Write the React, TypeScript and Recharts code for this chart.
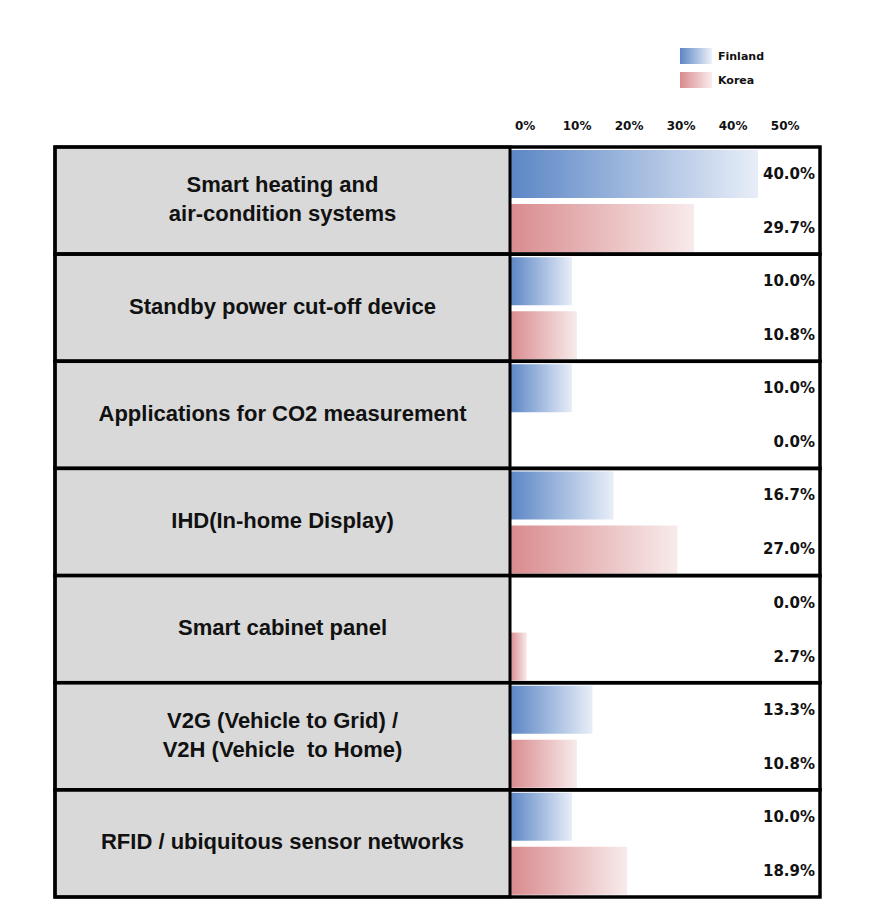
import React from "react"
import { Bar, BarChart, LabelList, Legend, XAxis, YAxis } from "recharts"

const categories = [
  "Smart heating and\nair-condition systems",
  "Standby power cut-off device",
  "Applications for CO2 measurement",
  "IHD(In-home Display)",
  "Smart cabinet panel",
  "V2G (Vehicle to Grid) /\nV2H (Vehicle  to Home)",
  "RFID / ubiquitous sensor networks",
]
const finland = [40.0, 10.0, 10.0, 16.7, 0.0, 13.3, 10.0]
const korea = [29.7, 10.8, 0.0, 27.0, 2.7, 10.8, 18.9]
const tickValues = [0, 10, 20, 30, 40, 50]

const data = categories.map((name, i) => ({ name, finland: finland[i], korea: korea[i] }))

const W = 876
const H = 904
const LEFT = 55
const LABEL_W = 455
const PLOT_TOP = 147
const PLOT_BOTTOM = 897
const PLOT_RIGHT = 820
const AXIS_H = 30
const BAND = (PLOT_BOTTOM - PLOT_TOP) / categories.length

const RowTick = (props: any) => {
  const { y, payload } = props
  const lines = String(payload.value).split("\n")
  const lh = 29
  const top = y - BAND / 2
  return (
    <g>
      <rect x={LEFT} y={top} width={LABEL_W} height={BAND} fill="#d9d9d9" stroke="#000" strokeWidth={3} />
      <rect x={LEFT} y={top} width={PLOT_RIGHT - LEFT} height={BAND} fill="none" stroke="#000" strokeWidth={3.5} />
      <text
        x={LEFT + LABEL_W / 2}
        y={y - ((lines.length - 1) * lh) / 2 - 2}
        textAnchor="middle"
        dominantBaseline="central"
        fontFamily="'Liberation Sans', Arial, sans-serif"
        fontWeight="bold"
        fontSize={22}
        fill="#111"
        style={{ whiteSpace: "pre" }}
      >
        {lines.map((l, i) => (
          <tspan key={i} x={LEFT + LABEL_W / 2} dy={i === 0 ? 0 : lh}>
            {l}
          </tspan>
        ))}
      </text>
    </g>
  )
}

const ValueLabel = (props: any) => {
  const { y, height, value } = props
  return (
    <text
      x={PLOT_RIGHT - 5}
      y={y + height / 2}
      textAnchor="end"
      dominantBaseline="central"
      fontFamily="'DejaVu Sans', sans-serif"
      fontWeight="bold"
      fontSize={15}
      fill="#111"
    >
      {Number(value).toFixed(1)}%
    </text>
  )
}

const legendItems = [
  { label: "Finland", from: "#5b86c5", to: "#eef2f9" },
  { label: "Korea", from: "#d98b8e", to: "#f9eded" },
]

const LegendBox = () => (
  <div style={{ display: "flex", flexDirection: "column", gap: 8 }}>
    {legendItems.map((it) => (
      <div key={it.label} style={{ display: "flex", alignItems: "center", height: 16 }}>
        <div
          style={{
            width: 32,
            height: 16,
            background: `linear-gradient(to right, ${it.from}, ${it.to})`,
            marginRight: 6,
          }}
        />
        <span style={{ fontFamily: "'DejaVu Sans', sans-serif", fontWeight: "bold", fontSize: 11, color: "#111" }}>
          {it.label}
        </span>
      </div>
    ))}
  </div>
)

export default function App() {
  return (
    <div style={{ position: "absolute", left: 0, top: 0, width: W, height: H, background: "#fff" }}>
      <BarChart
        width={W}
        height={H}
        data={data}
        layout="vertical"
        margin={{ top: PLOT_TOP - AXIS_H, right: W - PLOT_RIGHT, bottom: H - PLOT_BOTTOM, left: LEFT }}
        barCategoryGap={3}
        barGap={6}
      >
        <defs>
          <linearGradient id="gradFin" x1="0" y1="0" x2="1" y2="0">
            <stop offset="0%" stopColor="#5b86c5" />
            <stop offset="100%" stopColor="#e8eef8" />
          </linearGradient>
          <linearGradient id="gradKor" x1="0" y1="0" x2="1" y2="0">
            <stop offset="0%" stopColor="#d98b8e" />
            <stop offset="100%" stopColor="#f8ebeb" />
          </linearGradient>
        </defs>
        <XAxis xAxisId="bars" type="number" domain={[0, 50]} hide />
        <XAxis
          xAxisId="ticks"
          type="number"
          orientation="top"
          domain={[-2.9, 56.7]}
          allowDataOverflow
          ticks={tickValues}
          tickFormatter={(v: number) => `${v}%`}
          axisLine={false}
          tickLine={false}
          height={AXIS_H}
          tickMargin={11}
          tick={{ fontFamily: "'DejaVu Sans', sans-serif", fontWeight: "bold", fontSize: 12, fill: "#111" }}
        />
        <YAxis
          type="category"
          dataKey="name"
          width={LABEL_W}
          axisLine={false}
          tickLine={false}
          tick={<RowTick />}
          interval={0}
        />
        <Legend
          verticalAlign="middle"
          align="center"
          layout="horizontal"
          content={() => <LegendBox />}
          wrapperStyle={{ position: "absolute", top: 48, left: 680, width: 120 }}
        />
        <Bar xAxisId="bars" dataKey="finland" name="Finland" fill="url(#gradFin)" minPointSize={1} isAnimationActive={false}>
          <LabelList dataKey="finland" content={<ValueLabel />} />
        </Bar>
        <Bar xAxisId="bars" dataKey="korea" name="Korea" fill="url(#gradKor)" minPointSize={1} isAnimationActive={false}>
          <LabelList dataKey="korea" content={<ValueLabel />} />
        </Bar>
      </BarChart>
    </div>
  )
}
